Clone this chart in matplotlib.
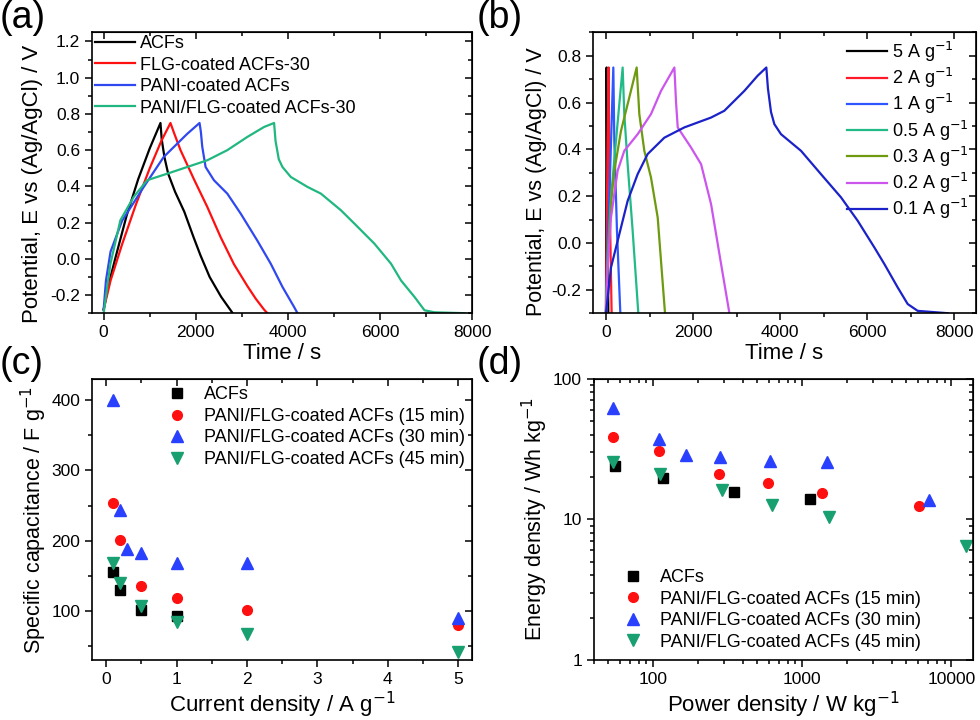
import numpy as np
import matplotlib
matplotlib.use("Agg")
import matplotlib.pyplot as plt
from matplotlib.ticker import MultipleLocator, FuncFormatter, NullFormatter

plt.rcParams['font.family'] = ['Liberation Sans', 'DejaVu Sans']
plt.rcParams['axes.unicode_minus'] = False

# ---- (a) GCD curves of the four electrodes (time s, potential V)
acf_t = [0, 100, 250, 500, 750, 1000, 1233, 1260, 1320, 1400, 1550, 1750, 1950, 2100, 2300, 2550, 2800]
acf_e = [-0.28, -0.15, 0.0, 0.24, 0.44, 0.61, 0.75, 0.66, 0.56, 0.47, 0.37, 0.26, 0.12, 0.02, -0.10, -0.21, -0.30]
flg_t = [0, 150, 400, 700, 1000, 1250, 1450, 1520, 1668, 1958, 2248, 2538, 2828, 3118, 3300, 3480, 3553]
flg_e = [-0.28, -0.12, 0.08, 0.30, 0.50, 0.65, 0.75, 0.70, 0.60, 0.44, 0.287, 0.12, -0.03, -0.15, -0.22, -0.28, -0.30]
pani_t = [0, 50, 150, 400, 870, 1305, 1813, 2081, 2110, 2139, 2212, 2393, 2683, 2973, 3336, 3626, 3880, 4133, 4206]
pani_e = [-0.28, -0.12, 0.04, 0.21, 0.397, 0.563, 0.69, 0.75, 0.70, 0.62, 0.507, 0.434, 0.36, 0.25, 0.10, -0.027, -0.155, -0.266, -0.30]
pf_t = [0, 145, 363, 653, 943, 1378, 1813, 2248, 2683, 3118, 3481, 3698, 3730, 3800, 3880, 4061, 4423, 4714,
        5149, 5439, 5874, 6236, 6454, 6744, 6962, 7180, 7832]
pf_e = [-0.30, -0.03, 0.213, 0.342, 0.434, 0.47, 0.507, 0.544, 0.60, 0.673, 0.728, 0.75, 0.65, 0.55, 0.507, 0.452,
        0.397, 0.36, 0.268, 0.195, 0.084, -0.027, -0.12, -0.21, -0.284, -0.295, -0.30]

# ---- (b) GCD curves of PANI/FLG-coated ACFs-30 at different current densities
b5_t = [0, 8, 15, 30, 54]
b5_e = [-0.30, 0.30, 0.75, 0.20, -0.30]
b2_t = [0, 38, 61, 84, 130]
b2_e = [-0.30, 0.45, 0.75, 0.20, -0.30]
b1_t = [0, 30, 77, 169, 192, 253, 330]
b1_e = [-0.30, -0.05, 0.194, 0.75, 0.437, 0.052, -0.30]
b05_t = [0, 40, 115, 230, 383, 421, 498, 613, 743]
b05_e = [-0.30, -0.05, 0.194, 0.437, 0.75, 0.551, 0.337, 0.052, -0.30]
b03_t = [0, 38, 115, 192, 345, 536, 705, 766, 881, 1034, 1188, 1356]
b03_e = [-0.30, -0.09, 0.166, 0.309, 0.479, 0.622, 0.75, 0.551, 0.394, 0.28, 0.109, -0.30]
b02_t = [0, 40, 115, 268, 421, 728, 1034, 1264, 1571, 1610, 1648, 1954, 2184, 2414, 2644, 2835]
b02_e = [-0.30, -0.10, 0.109, 0.309, 0.394, 0.465, 0.551, 0.65, 0.75, 0.60, 0.494, 0.408, 0.337, 0.166, -0.09, -0.30]
b01_t = [0, 115, 268, 498, 727, 957, 1340, 1800, 2412, 2718, 3178, 3484, 3683, 3720, 3790, 3867, 4020, 4479,
         4939, 5398, 5781, 6164, 6394, 6700, 6930, 7159, 7848]
b01_e = [-0.30, -0.105, 0.009, 0.18, 0.294, 0.38, 0.45, 0.494, 0.536, 0.565, 0.65, 0.715, 0.75, 0.66, 0.56, 0.508,
         0.465, 0.394, 0.294, 0.195, 0.095, -0.019, -0.09, -0.19, -0.261, -0.29, -0.30]

# ---- (c) specific capacitance vs current density
c_acf_x = [0.1, 0.2, 0.5, 1]
c_acf_y = [155.5, 129.4, 101.4, 92.2]
c_15_x = [0.1, 0.2, 0.5, 1, 2, 5]
c_15_y = [254, 200.5, 136, 118, 101.4, 80]
c_30_x = [0.1, 0.2, 0.3, 0.5, 1, 2, 5]
c_30_y = [401, 243.6, 188.6, 182, 167.8, 167.8, 90]
c_45_x = [0.1, 0.2, 0.5, 1, 2, 5]
c_45_y = [168.7, 139.3, 107.6, 84, 67.3, 40.8]

# ---- (d) Ragone plot
d_acf_x = [55.2, 116, 350, 1130]
d_acf_y = [23.8, 19.6, 15.5, 14.0]
d_15_x = [53.6, 109, 278, 593, 1352, 6086]
d_15_y = [38.7, 30.6, 20.8, 18.0, 15.4, 12.4]
d_30_x = [54.1, 110, 166, 280, 603, 1459, 7100]
d_30_y = [61.3, 37.1, 28.8, 27.8, 25.9, 25.6, 13.7]
d_45_x = [54.1, 111, 289, 625, 1520, 12530]
d_45_y = [25.6, 20.9, 16.1, 12.7, 10.3, 6.44]

names_a = ['ACFs', 'FLG-coated ACFs-30', 'PANI-coated ACFs', 'PANI/FLG-coated ACFs-30']
names_b = ['5 A g$^{-1}$', '2 A g$^{-1}$', '1 A g$^{-1}$', '0.5 A g$^{-1}$', '0.3 A g$^{-1}$',
           '0.2 A g$^{-1}$', '0.1 A g$^{-1}$']
names_cd = ['ACFs', 'PANI/FLG-coated ACFs (15 min)', 'PANI/FLG-coated ACFs (30 min)',
            'PANI/FLG-coated ACFs (45 min)']

col_a = ['black', '#ff1010', '#3048f0', '#20b880']
col_b = ['black', '#ff1a2a', '#2f55ff', '#22bb88', '#6e9a10', '#cc55ee', '#1a22c8']
col_cd = ['black', '#ff1010', '#2a40ff', '#18a070']
mk_cd = ['s', 'o', '^', 'v']
ms_cd = [6.5, 7, 8, 8]

TS = 12.5
LS = 16
GS = 13


def style(ax):
    for s in ax.spines.values():
        s.set_linewidth(1.2)
    ax.tick_params(which='both', direction='out', labelsize=TS, width=1.1)
    ax.tick_params(which='major', length=5)
    ax.tick_params(which='minor', length=3)
    top = ax.secondary_xaxis('top')
    right = ax.secondary_yaxis('right')
    for sec in (top, right):
        sec.tick_params(which='both', direction='in', width=1.1, labeltop=False, labelright=False)
        sec.tick_params(which='major', length=5)
        sec.tick_params(which='minor', length=3)
    return top, right


def lin_ticks(ax, top, right, xmaj, xmin, ymaj, ymin):
    for a in (ax.xaxis, top.xaxis):
        a.set_major_locator(MultipleLocator(xmaj))
        a.set_minor_locator(MultipleLocator(xmin))
    for a in (ax.yaxis, right.yaxis):
        a.set_major_locator(MultipleLocator(ymaj))
        a.set_minor_locator(MultipleLocator(ymin))


fig = plt.figure(figsize=(9.8, 7.2), dpi=100)

# (a)
ax = fig.add_axes([0.094, 0.565, 0.388, 0.390])
for t, e, c, n in zip([acf_t, flg_t, pani_t, pf_t], [acf_e, flg_e, pani_e, pf_e], col_a, names_a):
    ax.plot(t, e, color=c, lw=1.6, label=n)
ax.set_xlim(-250, 8000)
ax.set_ylim(-0.3, 1.25)
top, right = style(ax)
lin_ticks(ax, top, right, 2000, 1000, 0.2, 0.1)
ax.yaxis.set_major_formatter(FuncFormatter(lambda v, p: '%.1f' % v))
ax.set_xlabel('Time / s', fontsize=LS, labelpad=2)
ax.set_ylabel('Potential, E vs (Ag/AgCl) / V', fontsize=16, labelpad=2)
ax.yaxis.set_label_coords(-0.13, 0.46)
ax.legend(loc='upper left', frameon=False, fontsize=GS, handlelength=2.2, handletextpad=0.3,
          labelspacing=0.25, borderaxespad=0.0, borderpad=0.15)

# (b)
ax = fig.add_axes([0.605, 0.565, 0.391, 0.390])
bt = [b5_t, b2_t, b1_t, b05_t, b03_t, b02_t, b01_t]
be = [b5_e, b2_e, b1_e, b05_e, b03_e, b02_e, b01_e]
for t, e, c, n in zip(bt, be, col_b, names_b):
    ax.plot(t, e, color=c, lw=1.6, label=n)
ax.set_xlim(-300, 8500)
ax.set_ylim(-0.3, 0.9)
top, right = style(ax)
lin_ticks(ax, top, right, 2000, 1000, 0.2, 0.1)
ax.yaxis.set_major_formatter(FuncFormatter(lambda v, p: '%.1f' % v))
ax.set_xlabel('Time / s', fontsize=LS, labelpad=2)
ax.set_ylabel('Potential, E vs (Ag/AgCl) / V', fontsize=15.5, labelpad=2)
ax.yaxis.set_label_coords(-0.12, 0.47)
ax.legend(loc='upper right', frameon=False, fontsize=GS, handlelength=2.2, handletextpad=0.3,
          labelspacing=0.12, borderaxespad=0.2, borderpad=0.2)

# (c)
ax = fig.add_axes([0.094, 0.0833, 0.388, 0.390])
for x, y, c, m, s, n in zip([c_acf_x, c_15_x, c_30_x, c_45_x], [c_acf_y, c_15_y, c_30_y, c_45_y],
                            col_cd, mk_cd, ms_cd, names_cd):
    ax.plot(x, y, ls='none', marker=m, color=c, ms=s, label=n)
ax.set_xlim(-0.2, 5.2)
ax.set_ylim(30, 430)
top, right = style(ax)
lin_ticks(ax, top, right, 1, 0.5, 100, 50)
ax.set_xlabel('Current density / A g$^{-1}$', fontsize=LS, labelpad=2)
ax.set_ylabel('Specific capacitance / F g$^{-1}$', fontsize=15.5, labelpad=2)
ax.legend(loc='upper right', frameon=False, fontsize=GS, handlelength=1.0, handletextpad=1.0,
          labelspacing=0.25, borderaxespad=0.1, borderpad=0.3)

# (d)
ax = fig.add_axes([0.606, 0.0833, 0.387, 0.391])
for x, y, c, m, s, n in zip([d_acf_x, d_15_x, d_30_x, d_45_x], [d_acf_y, d_15_y, d_30_y, d_45_y],
                            col_cd, mk_cd, ms_cd, names_cd):
    ax.plot(x, y, ls='none', marker=m, color=c, ms=s, label=n)
ax.set_xscale('log')
ax.set_yscale('log')
ax.set_xlim(40, 14000)
ax.set_ylim(1, 100)
fmt = FuncFormatter(lambda v, p: '%d' % round(v))
ax.xaxis.set_major_formatter(fmt)
ax.yaxis.set_major_formatter(fmt)
ax.xaxis.set_minor_formatter(NullFormatter())
ax.yaxis.set_minor_formatter(NullFormatter())
top, right = style(ax)
top.xaxis.set_major_formatter(NullFormatter())
right.yaxis.set_major_formatter(NullFormatter())
ax.set_xlabel('Power density / W kg$^{-1}$', fontsize=LS, labelpad=2)
ax.set_ylabel('Energy density / Wh kg$^{-1}$', fontsize=15.5, labelpad=2)
ax.legend(loc='lower left', frameon=False, fontsize=GS, handlelength=1.0, handletextpad=1.0,
          labelspacing=0.25, bbox_to_anchor=(0.07, 0.02), borderaxespad=0.0, borderpad=0.2)

for lab, x, y in [('(a)', 0.0, 1.0), ('(b)', 0.486, 1.0), ('(c)', 0.0, 0.52), ('(d)', 0.486, 0.52)]:
    fig.text(x, y, lab, fontsize=27, ha='left', va='top')

fig.savefig('out.png', dpi=100)
